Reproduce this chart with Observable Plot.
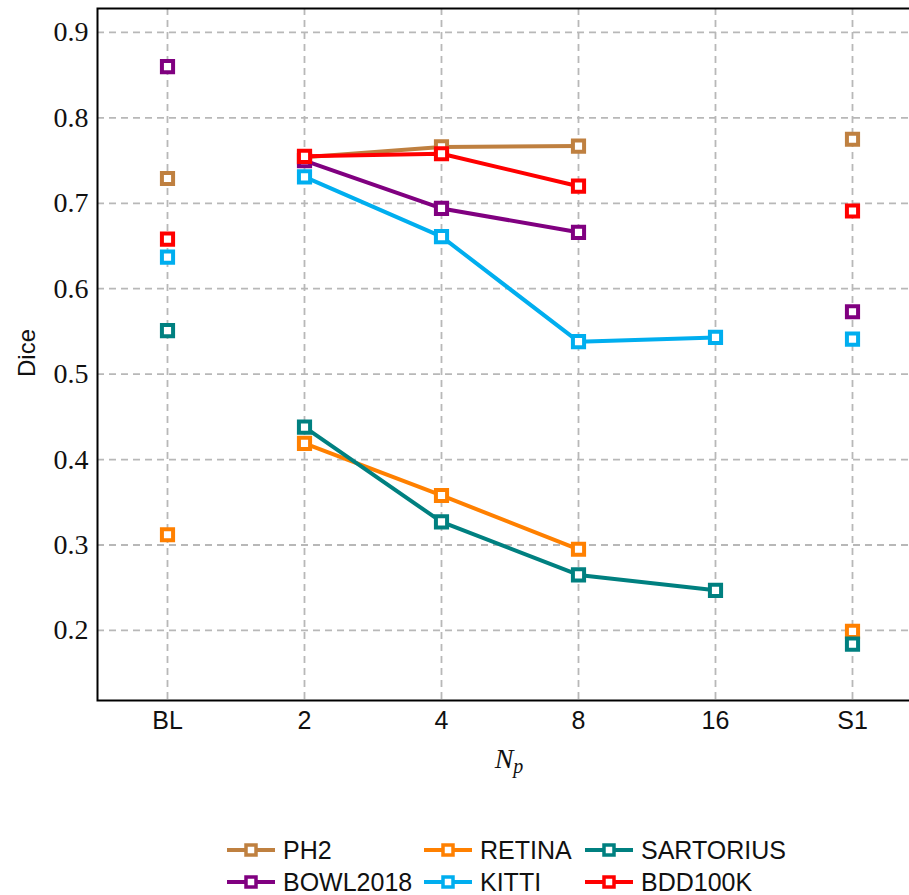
<!DOCTYPE html>
<html>
<head>
<meta charset="utf-8">
<script src="https://cdn.jsdelivr.net/npm/d3@7"></script>
<script src="https://cdn.jsdelivr.net/npm/@observablehq/plot@0.6"></script>
<style>
  body { margin: 0; background: white; }
  #wrap { position: relative; width: 909px; height: 895px; overflow: hidden; background: white; }
  #chart { position: absolute; left: 0; top: 0; width: 921px; }
  #chart svg { max-width: none !important; }
  #legend { position: absolute; left: 227px; top: 834px; display: grid;
    grid-template-columns: 197px 161px auto; row-gap: 0px;
    font-family: "Liberation Sans", sans-serif; font-size: 25px; color: #111; }
  .item { display: flex; align-items: center; height: 32px; white-space: nowrap; }
  .item svg { margin-right: 8px; }
</style>
</head>
<body>
<div id="wrap"><div id="chart"></div><div id="legend"></div></div>
<script>
const categories = ["BL", "2", "4", "8", "16", "S1"];
const lineCategories = ["2", "4", "8", "16"];
const seriesNames = ["PH2", "RETINA", "SARTORIUS", "BOWL2018", "KITTI", "BDD100K"];
const seriesColors = ["#bf8040", "#ff8000", "#008080", "#800080", "#00aeef", "#ff0000"];
const PH2 = [0.729, 0.754, 0.766, 0.767, null, 0.775];
const RETINA = [0.312, 0.419, 0.358, 0.295, null, 0.199];
const SARTORIUS = [0.551, 0.438, 0.327, 0.265, 0.247, 0.184];
const BOWL2018 = [0.860, 0.750, 0.694, 0.666, null, 0.573];
const KITTI = [0.637, 0.731, 0.661, 0.538, 0.543, 0.541];
const BDD100K = [0.658, 0.755, 0.758, 0.720, null, 0.691];
const yTicks = [0.2, 0.3, 0.4, 0.5, 0.6, 0.7, 0.8, 0.9];
const legendOrder = ["PH2", "RETINA", "SARTORIUS", "BOWL2018", "KITTI", "BDD100K"];

const valuesBySeries = {PH2, RETINA, SARTORIUS, BOWL2018, KITTI, BDD100K};
const data = seriesNames.flatMap(s =>
  categories.map((c, i) => ({series: s, cat: c, value: valuesBySeries[s][i]}))
    .filter(d => d.value != null));

const seriesMarks = seriesNames.flatMap(s => {
  const pts = data.filter(d => d.series === s);
  const linePts = pts.filter(d => lineCategories.includes(d.cat));
  return [
    Plot.line(linePts, {x: "cat", y: "value", stroke: "series", strokeWidth: 4, strokeLinejoin: "round"}),
    Plot.dot(pts, {x: "cat", y: "value", stroke: "series", fill: "white", symbol: "square", r: 6.3, strokeWidth: 4})
  ];
});

const plot = Plot.plot({
  width: 921,
  height: 790,
  marginLeft: 97,
  marginRight: 0,
  marginTop: 8,
  marginBottom: 90,
  style: {background: "white", overflow: "visible", maxWidth: "none"},
  x: {type: "point", domain: categories, padding: 0.5, label: null},
  y: {domain: [0.118, 0.928], label: null},
  color: {domain: seriesNames, range: seriesColors},
  marks: [
    Plot.gridY(yTicks, {stroke: "#b8b8b8", strokeOpacity: 1, strokeWidth: 1.8, strokeDasharray: "7,5"}),
    Plot.gridX(categories, {stroke: "#b8b8b8", strokeOpacity: 1, strokeWidth: 1.8, strokeDasharray: "7,5"}),
    Plot.axisY(yTicks, {tickSize: 0, tickPadding: 9, tickFormat: d3.format(".1f"), fontSize: 28, fontFamily: "Liberation Serif, serif", fill: "#111", label: null}),
    Plot.axisX(categories, {tickSize: 0, tickPadding: 11, fontSize: 25, fontFamily: "Liberation Sans, sans-serif", fill: "#111", label: null}),
    ...seriesMarks,
    Plot.frame({stroke: "black", strokeWidth: 2})
  ]
});

const svg = d3.select(plot);
svg.append("text")
  .attr("transform", "translate(35,353) rotate(-90)")
  .attr("text-anchor", "middle")
  .attr("font-family", "Liberation Sans, sans-serif")
  .attr("font-size", 24)
  .attr("fill", "#111")
  .text("Dice");
const np = svg.append("text")
  .attr("x", 509).attr("y", 768)
  .attr("text-anchor", "middle")
  .attr("font-family", "Liberation Serif, serif")
  .attr("font-style", "italic")
  .attr("font-size", 28)
  .attr("fill", "#111");
np.append("tspan").text("N");
np.append("tspan").attr("font-size", 20).attr("dy", 5).text("p");

document.getElementById("chart").appendChild(plot);

const color = Object.fromEntries(seriesNames.map((s, i) => [s, seriesColors[i]]));
const legend = d3.select("#legend");
for (const s of legendOrder) {
  const item = legend.append("div").attr("class", "item");
  const sw = item.append("svg").attr("width", 48).attr("height", 20);
  sw.append("line").attr("x1", 0).attr("x2", 48).attr("y1", 10).attr("y2", 10)
    .attr("stroke", color[s]).attr("stroke-width", 4);
  sw.append("rect").attr("x", 19).attr("y", 5).attr("width", 10).attr("height", 10)
    .attr("fill", "white").attr("stroke", color[s]).attr("stroke-width", 3.5);
  item.append("span").text(s);
}
</script>
</body>
</html>
